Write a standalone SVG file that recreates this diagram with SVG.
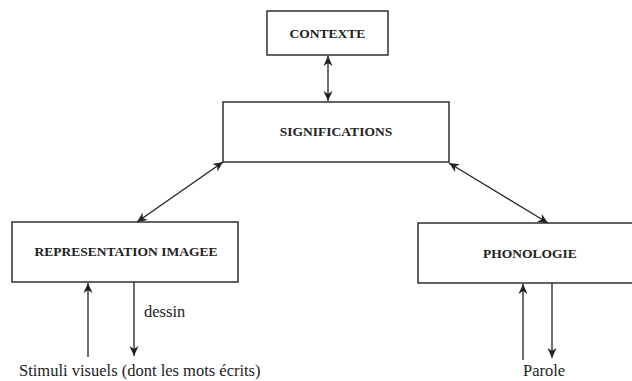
<svg xmlns="http://www.w3.org/2000/svg" width="632" height="381" viewBox="0 0 632 381">
<style>
.box{fill:#fff;stroke:#222;stroke-width:1.4}
.lbl{font-family:"Liberation Serif",serif;font-weight:bold;font-size:13.5px;fill:#222;text-anchor:middle}
.txt{font-family:"Liberation Serif",serif;font-size:16.5px;fill:#222}
.conn{stroke:#222;stroke-width:1.3;fill:none}
</style>
<defs>
<marker id="ah" viewBox="0 0 10 10" refX="10" refY="5" markerWidth="10" markerHeight="10" markerUnits="userSpaceOnUse" orient="auto-start-reverse">
<path d="M0,0.5 L10,5 L0,9.5 L3,5 z" fill="#222"/>
</marker>
</defs>
<rect width="632" height="381" fill="#fff"/>
<g id="contexte"><rect class="box" x="267" y="11" width="121" height="44"/><text class="lbl" x="327.5" y="38">CONTEXTE</text></g>
<g id="significations"><rect class="box" x="223" y="102" width="226" height="60"/><text class="lbl" x="336" y="136">SIGNIFICATIONS</text></g>
<g id="representation"><rect class="box" x="12" y="222" width="226" height="60"/><text class="lbl" x="126" y="256">REPRESENTATION IMAGEE</text></g>
<g id="phonologie"><rect class="box" x="418" y="223" width="220" height="60"/><text class="lbl" x="530" y="258">PHONOLOGIE</text></g>
<g id="connectors">
<line class="conn" x1="328" y1="56" x2="328" y2="101" marker-start="url(#ah)" marker-end="url(#ah)"/>
<line class="conn" x1="223" y1="162" x2="137" y2="222" marker-start="url(#ah)" marker-end="url(#ah)"/>
<line class="conn" x1="449" y1="163" x2="548" y2="223" marker-start="url(#ah)" marker-end="url(#ah)"/>
<line class="conn" x1="88" y1="357" x2="88" y2="283" marker-end="url(#ah)"/>
<line class="conn" x1="134" y1="282" x2="134" y2="356" marker-end="url(#ah)"/>
<line class="conn" x1="523" y1="360" x2="523" y2="284" marker-end="url(#ah)"/>
<line class="conn" x1="552" y1="283" x2="552" y2="358" marker-end="url(#ah)"/>
</g>
<text class="txt" x="144" y="317">dessin</text>
<text class="txt" x="19" y="376">Stimuli visuels (dont les mots écrits)</text>
<text class="txt" x="523" y="376">Parole</text>
</svg>
